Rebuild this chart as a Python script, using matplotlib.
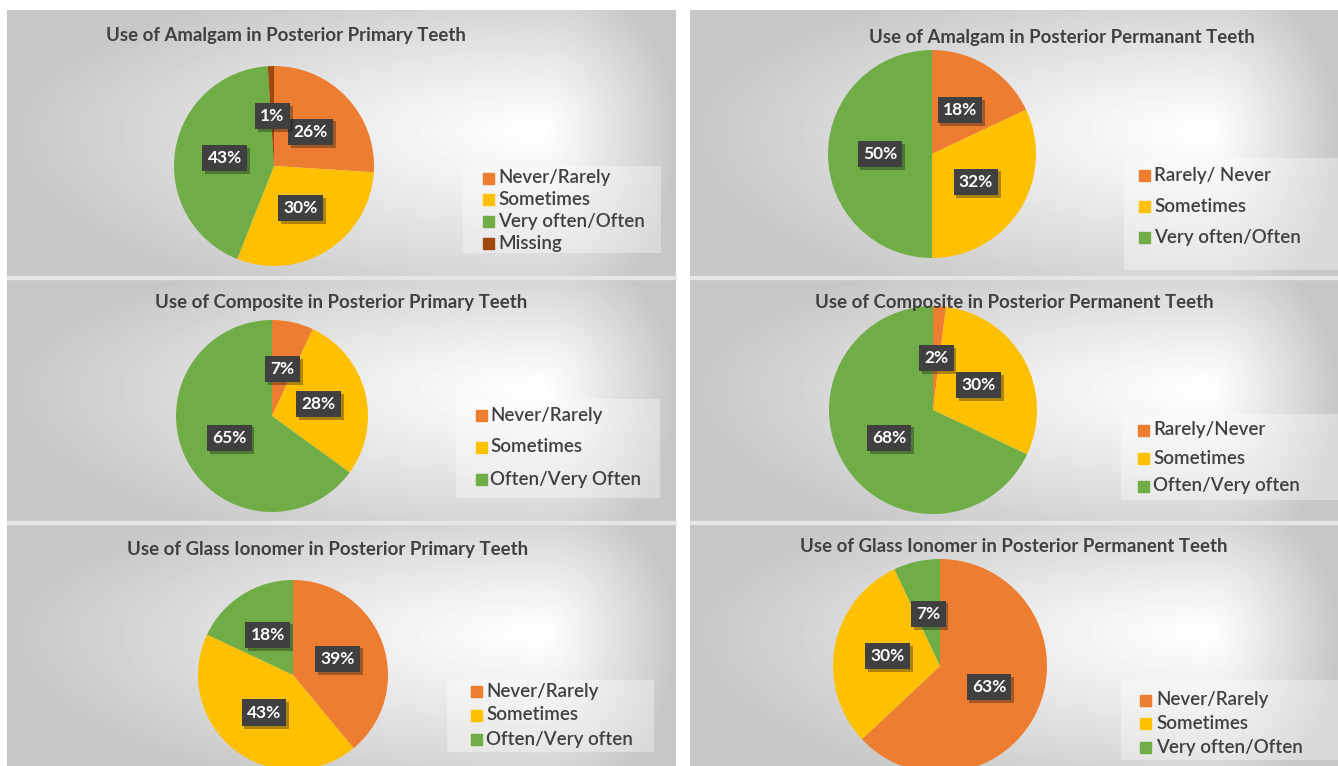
import numpy as np
import matplotlib.pyplot as plt
from matplotlib.patches import Rectangle
import matplotlib.patheffects as pe

plt.rcParams['font.family'] = ['Lato', 'DejaVu Sans']

W, H = 1338, 766
ORANGE, YELLOW, GREEN, BROWN = '#ED7D31', '#FFC000', '#70AD47', '#9E480E'
TEXT = '#404040'

# ---- data ----
amalgam_primary_title = 'Use of Amalgam in Posterior Primary Teeth'
amalgam_primary_labels = ['Never/Rarely', 'Sometimes', 'Very often/Often', 'Missing']
amalgam_primary_values = [26, 30, 43, 1]

amalgam_perm_title = 'Use of Amalgam in Posterior Permanant Teeth'
amalgam_perm_labels = ['Rarely/ Never', 'Sometimes', 'Very often/Often']
amalgam_perm_values = [18, 32, 50]

composite_primary_title = 'Use of Composite in Posterior Primary Teeth'
composite_primary_labels = ['Never/Rarely', 'Sometimes', 'Often/Very Often']
composite_primary_values = [7, 28, 65]

composite_perm_title = 'Use of Composite in Posterior Permanent Teeth'
composite_perm_labels = ['Rarely/Never', 'Sometimes', 'Often/Very often']
composite_perm_values = [2, 30, 68]

glass_primary_title = 'Use of Glass Ionomer in Posterior Primary Teeth'
glass_primary_labels = ['Never/Rarely', 'Sometimes', 'Often/Very often']
glass_primary_values = [39, 43, 18]

glass_perm_title = 'Use of Glass Ionomer in Posterior Permanent Teeth'
glass_perm_labels = ['Never/Rarely', 'Sometimes', 'Very often/Often']
glass_perm_values = [63, 30, 7]

colors = [ORANGE, YELLOW, GREEN, BROWN]

charts = [
    (amalgam_primary_title, amalgam_primary_labels, amalgam_primary_values),
    (amalgam_perm_title, amalgam_perm_labels, amalgam_perm_values),
    (composite_primary_title, composite_primary_labels, composite_primary_values),
    (composite_perm_title, composite_perm_labels, composite_perm_values),
    (glass_primary_title, glass_primary_labels, glass_primary_values),
    (glass_perm_title, glass_perm_labels, glass_perm_values),
]

# ---- layout (pixels of the picture) ----
panels = [(7, 10, 676, 277), (690, 10, 1338, 277),
          (7, 279, 676, 522), (690, 279, 1338, 522),
          (7, 524, 676, 766), (690, 524, 1338, 766)]
pies = [(274, 166, 100), (932, 154, 104), (272, 416, 96),
        (933, 410, 104), (293, 675, 95), (940, 666, 107)]
title_pos = [(286, 36), (1062, 37), (341, 302), (1014, 302), (328, 549), (1014, 547)]
legend_box = [(463, 166, 661, 253), (1124, 158, 1338, 270), (456, 399, 660, 498),
              (1121, 414, 1338, 500), (447, 680, 654, 752), (1121, 680, 1338, 760)]
# first row y, row step, marker x, text x
legend_rows = [(178, 21.7, 483, 498), (175, 31, 1139, 1154), (415, 32, 476, 490),
               (430, 28, 1138, 1153), (691, 24, 471, 486), (700, 23.5, 1140, 1156)]


def gradient(w, h, fx=0.8, fy=0.45, dark=0.78):
    X, Y = np.meshgrid(np.linspace(0, 1, w), np.linspace(0, 1, h))
    dx = np.where(X < fx, (fx - X) / fx, (X - fx) / (1 - fx))
    dy = np.where(Y < fy, (fy - Y) / fy, (Y - fy) / (1 - fy))
    d = np.clip(np.sqrt(dx ** 2 + (0.75 * dy) ** 2), 0, 1)
    return 1 - (1 - dark) * d ** 1.1


fig = plt.figure(figsize=(W / 100, H / 100), dpi=100)
fig.patch.set_facecolor('white')
bg = fig.add_axes([0, 0, 1, 1])
bg.set_xlim(0, W)
bg.set_ylim(H, 0)
bg.axis('off')
for sx, sw in [(7, 669), (690, 648)]:
    for sy in (276, 521):
        bg.add_patch(Rectangle((sx, sy), sw, 3, color='#e6e6e6'))

for i, (title, labels, values) in enumerate(charts):
    x0, y0, x1, y1 = panels[i]
    bg.imshow(gradient(x1 - x0, y1 - y0), cmap='gray', vmin=0, vmax=1,
              extent=(x0, x1, y1, y0), aspect='auto', interpolation='bilinear')

    cx, cy, r = pies[i]
    ax = fig.add_axes([(cx - r) / W, 1 - (cy + r) / H, 2 * r / W, 2 * r / H])
    wedges, _, autotexts = ax.pie(values, colors=colors[:len(values)], startangle=90,
                                  counterclock=False, autopct='%.0f%%', pctdistance=0.5,
                                  wedgeprops=dict(linewidth=0),
                                  textprops=dict(color='white', fontsize=12.5, fontweight='bold'))
    ax.set_xlim(-1, 1)
    ax.set_ylim(-1, 1)
    for t in autotexts:
        t.set_bbox(dict(boxstyle='square,pad=0.3', fc='#404040', ec='none'))
        t.get_bbox_patch().set_path_effects(
            [pe.SimplePatchShadow(offset=(2, -2), alpha=0.35), pe.Normal()])

    tx, ty = title_pos[i]
    fig.text(tx / W, 1 - ty / H, title, ha='center', va='center', fontsize=13.4,
             fontweight='bold', color=TEXT, zorder=10)

    lx0, ly0, lx1, ly1 = legend_box[i]
    bg.add_patch(Rectangle((lx0, ly0), lx1 - lx0, ly1 - ly0, fc='white', alpha=0.35, ec='none'))
    ry, step, mx, txx = legend_rows[i]
    for j, lab in enumerate(labels):
        y = ry + j * step
        bg.add_patch(Rectangle((mx, y - 5.5), 11, 11, color=colors[j]))
        bg.text(txx, y, lab, va='center', ha='left', fontsize=13.5, fontweight='semibold',
                color=TEXT)

fig.savefig('out.png', dpi=100)
